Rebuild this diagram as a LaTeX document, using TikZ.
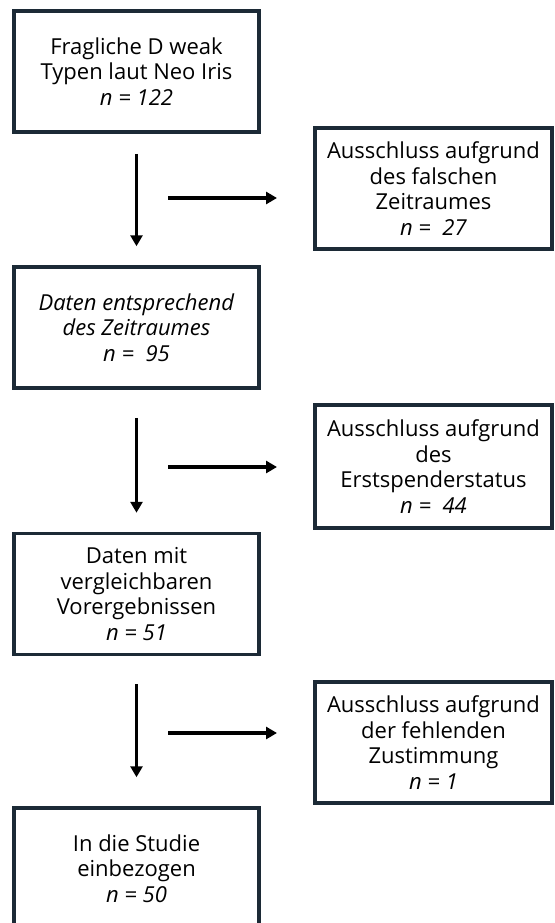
\documentclass[tikz,border=0pt]{standalone}
\usepackage{fontspec}
\setmainfont{Open Sans}
\usetikzlibrary{arrows.meta}
\definecolor{boxborder}{HTML}{1C2A36}
\tikzset{
  box/.style={draw=boxborder, line width=3.5pt, fill=white, rectangle, align=center,
    minimum width=#1, minimum height=121pt, inner sep=0pt,
    font=\fontsize{22pt}{25.5pt}\selectfont},
  box/.default=245pt,
  arr/.style={line width=3.3pt, -{Triangle[length=11pt,width=12pt]}}
}
\begin{document}
\begin{tikzpicture}[x=1pt,y=-1pt]
\useasboundingbox (0,0) rectangle (554,923);
\begin{scope}
\clip (0,0) rectangle (554,923);
\node[box] (b1) at (136.5,71.5) {Fragliche D weak\\Typen laut Neo Iris\\\textit{n = 122}};
\node[box] (b2) at (136.5,327.5) {\textit{Daten entsprechend}\\\textit{des Zeitraumes}\\\textit{n =\ \ 95}};
\node[box] (b3) at (136.5,594) {Daten mit\\vergleichbaren\\Vorergebnissen\\\textit{n = 51}};
\node[box] (b4) at (136.5,868.5) {In die Studie\\einbezogen\\\textit{n = 50}};
\node[box=237pt] (r1) at (433.5,188.5) {Ausschluss aufgrund\\des falschen\\Zeitraumes\\\textit{n =\ \ 27}};
\node[box=237pt, minimum height=123pt] (r2) at (433.5,466.5) {Ausschluss aufgrund\\des\\Erstspenderstatus\\\textit{n =\ \ 44}};
\node[box=237pt] (r3) at (433.5,742.5) {Ausschluss aufgrund\\der fehlenden\\Zustimmung\\\textit{n = 1}};
\end{scope}
\draw[arr, shorten <=20pt, shorten >=19pt] (b1.south) -- (b2.north);
\draw[arr, shorten <=28pt, shorten >=19pt] (b2.south) -- (b3.north);
\draw[arr, shorten <=28pt, shorten >=29pt] (b3.south) -- (b4.north);
\coordinate (h1s) at (168,198);
\coordinate (h1e) at (277,198);
\coordinate (h2s) at (168,467);
\coordinate (h2e) at (277,467);
\coordinate (h3s) at (168,733);
\coordinate (h3e) at (277,733);
\draw[arr] (h1s) -- (h1e);
\draw[arr] (h2s) -- (h2e);
\draw[arr] (h3s) -- (h3e);
\end{tikzpicture}
\end{document}
